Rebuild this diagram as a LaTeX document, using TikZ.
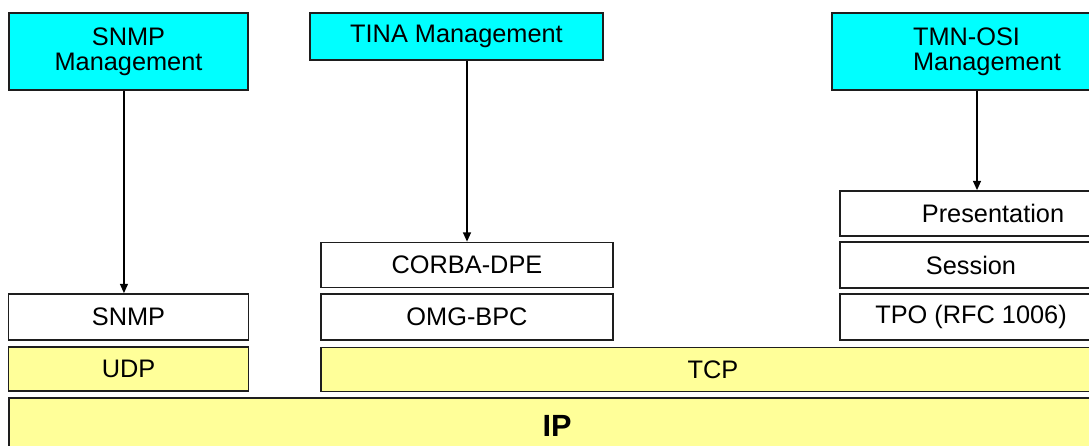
\documentclass[tikz,border=0pt]{standalone}
\usepackage{fontspec}
\setmainfont{Liberation Sans}
\usepackage{xcolor}
\usetikzlibrary{arrows.meta}
\definecolor{mgmtcyan}{RGB}{0, 255, 255}
\definecolor{layeryellow}{RGB}{255, 255, 153}
\definecolor{edgegray}{RGB}{30, 30, 30}

\tikzset{
  layer/.style={draw=edgegray, line width=1.3pt, rectangle, inner sep=0pt,
    font=\fontsize{19}{19}\selectfont, fill=white},
  mgmt/.style={layer, fill=mgmtcyan, align=center},
  transport/.style={layer, fill=layeryellow},
  down/.style={line width=1.1pt, -{Triangle[length=7pt,width=6pt]}}
}

\begin{document}
\begin{tikzpicture}[x=0.75pt,y=0.75pt,yscale=-1,xscale=1]
\useasboundingbox (0,0) rectangle (1089,446);
\clip (0,0) rectangle (1089,446);

%Management boxes
\node (snmpmgmt) [mgmt, minimum width=179.25pt, minimum height=57.75pt] at (128.5,51.5) {SNMP\\Management};
\node (tinamgmt) [mgmt, minimum width=219.75pt, minimum height=35.25pt] at (456.5,36.5) {TINA Management};
\node (tmnmgmt) [mgmt, align=left, minimum width=232.5pt, minimum height=57.75pt] at (987,51.5) {TMN-OSI\\Management};

%SNMP stack
\node (snmp) [layer, minimum width=180pt, minimum height=34.5pt] at (128.5,317) {SNMP};
\node (udp) [transport, minimum width=180pt, minimum height=33pt] at (128.5,369) {UDP};

%TINA stack
\node (corba) [layer, minimum width=219pt, minimum height=33.75pt] at (467,265) {CORBA-DPE};
\node (omg) [layer, minimum width=219pt, minimum height=34.5pt] at (467,317) {OMG-BPC};

%OSI stack
\node (pres) [layer, minimum width=229.5pt, minimum height=33.75pt] at (993,213.5) {Presentation};
\node (session) [layer, minimum width=196.5pt, minimum height=34.5pt] at (971,265) {Session};
\node (tpo) [layer, minimum width=196.5pt, minimum height=34.5pt] at (971,317) {TPO (RFC 1006)};

% Text Node
\node (tcp) [transport, minimum width=588pt, minimum height=33pt] at (713,369.5) {TCP};
\node (ip) [transport, font=\fontsize{23}{25}\selectfont\bfseries, minimum width=822pt, minimum height=42pt] at (557,426) {IP};

%Straight Lines
\draw [down] ([xshift=-3.4pt]snmpmgmt.south) -- ([xshift=-3.4pt]snmpmgmt.south |- snmp.north);
\draw [down] (tinamgmt.south -| corba.north) -- (corba.north);
\draw [down] ([xshift=-7.5pt]tmnmgmt.south) -- ([xshift=-7.5pt]tmnmgmt.south |- pres.north);

\end{tikzpicture}
\end{document}
